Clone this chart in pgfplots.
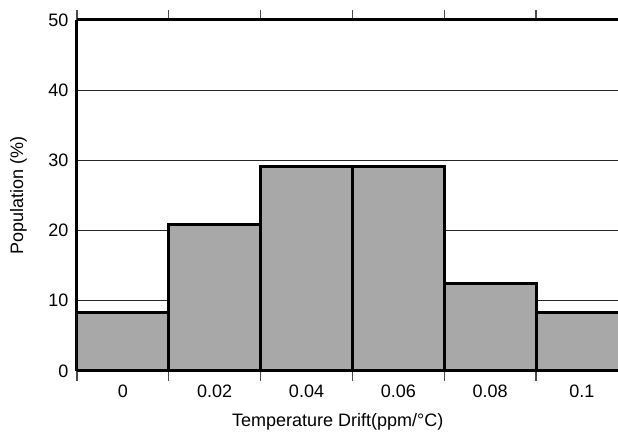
\documentclass[border=0pt]{standalone}
\usepackage{pgfplots}
\pgfplotsset{compat=1.18}
\usepackage{fontspec}
\setmainfont{Liberation Sans}
\definecolor{barfill}{HTML}{A8A8A8}
\begin{document}
\begin{tikzpicture}
\begin{axis}[
  at={(0pt,0pt)}, anchor=south west,
  width=541pt, height=351pt, scale only axis,
  xmin=0, xmax=5.893, ymin=0, ymax=50,
  axis x line=box, axis y line*=left,
  axis line style={line width=3pt},
  xtick={0.5,1.5,2.5,3.5,4.5,5.5},
  xticklabels={0,0.02,0.04,0.06,0.08,0.1},
  minor xtick={0,1,2,3,4,5},
  ytick={0,10,20,30,40,50},
  yticklabels={0,10,20,30,40,50},
  major tick length=0pt,
  minor tick length=10pt,
  tick align=outside,
  minor tick style={line width=1.2pt, color=black!70},
  ymajorgrids, grid style={line width=1pt, color=black!85},
  xmajorgrids=false,
  tick label style={font=\fontsize{18}{21}\selectfont},
  xticklabel style={yshift=-10pt},
  yticklabel style={xshift=-5pt},
  xlabel={Temperature Drift(ppm/°C)},
  ylabel={Population (\%)},
  label style={font=\fontsize{18}{21}\selectfont},
  xlabel style={at={(axis description cs:0.482,-0.144)}, anchor=center},
  ylabel style={at={(axis description cs:-0.108,0.5)}, anchor=center},
  clip=true,
]
\addplot[ybar interval, fill=barfill, draw=black, line width=3pt] coordinates {
  (0,8.333) (1,20.833) (2,29.167) (3,29.167) (4,12.5) (5,8.333) (6,8.333)
};
\end{axis}
\pgfresetboundingbox
\path (-77pt,-62pt) rectangle (541pt,371pt);
\end{tikzpicture}
\end{document}
